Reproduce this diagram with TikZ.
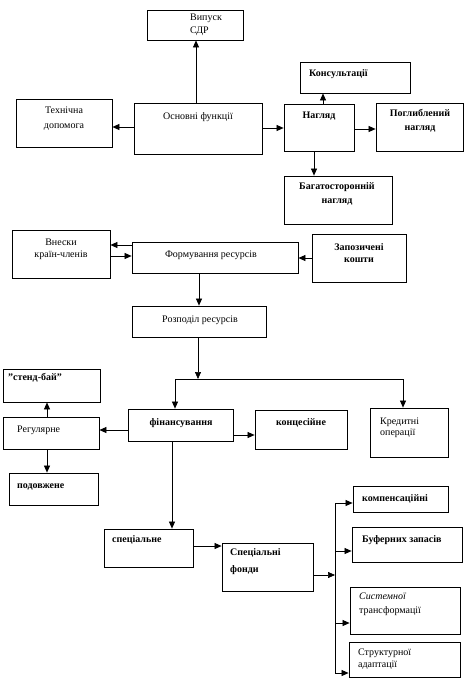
\documentclass[tikz,border=0pt]{standalone}
\usepackage{fontspec}
\setmainfont{Liberation Serif}
\usetikzlibrary{fit,arrows.meta}
\begin{document}
\begin{tikzpicture}[x=1pt,y=-1pt,
  bx/.style={draw, line width=0.8pt, inner sep=0pt},
  txt/.style={font=\fontsize{10}{14}\selectfont, inner sep=0pt, align=left},
  txtc/.style={txt, align=center},
  btxt/.style={txt, font=\fontsize{10}{14}\selectfont\bfseries},
  btxtc/.style={txtc, font=\fontsize{10}{14}\selectfont\bfseries},
  arr/.style={-{Triangle[length=7pt,width=6pt]}, line width=0.7pt},
  ln/.style={line width=0.7pt}]
\useasboundingbox[fill=white] (0,0) rectangle (473,682);

% boxes
\node[bx, fit={(147,10)(243,40)}] (vyp) {};
\node[bx, fit={(16,99)(112,147)}] (tech) {};
\node[bx, fit={(134,103)(262,154)}] (osn) {};
\node[bx, fit={(300,62)(410,93)}] (kons) {};
\node[bx, fit={(284,104)(354,151)}] (nahl) {};
\node[bx, fit={(376,103)(463,151)}] (pohl) {};
\node[bx, fit={(284,176)(392,224)}] (bahat) {};
\node[bx, fit={(12,230)(110,278)}] (vnes) {};
\node[bx, fit={(132,242)(298,273)}] (form) {};
\node[bx, fit={(312,234)(406,282)}] (zapoz) {};
\node[bx, fit={(132,306)(266,337)}] (rozp) {};
\node[bx, fit={(3,369)(100,402)}] (stend) {};
\node[bx, fit={(3,417)(99,449)}] (rehul) {};
\node[bx, fit={(9,473)(98,505)}] (podov) {};
\node[bx, fit={(128,409)(233,441)}] (fin) {};
\node[bx, fit={(255,410)(347,449)}] (konts) {};
\node[bx, fit={(370,408)(448,457)}] (kred) {};
\node[bx, fit={(104,529)(193,567)}] (spets) {};
\node[bx, fit={(222,543)(313,591)}] (fondy) {};
\node[bx, fit={(353,486)(448,512)}] (komp) {};
\node[bx, fit={(352,527)(462,562)}] (buf) {};
\node[bx, fit={(350,587)(460,634)}] (syst) {};
\node[bx, fit={(349,642)(460,677)}] (strukt) {};

% texts
\node[txt, anchor=west] (t-vyp) at (190,25) {Випуск\\[-1pt]СДР};
\node[txtc] (t-tech) at (64,118.5) {Технічна\\[1pt]допомога};
\node[txtc] (t-osn) at (198,117) {Основні функції};
\node[btxt, anchor=west] (t-kons) at (309,74) {Консультації};
\node[btxtc] (t-nahl) at (319,116) {Нагляд};
\node[btxtc] (t-pohl) at (420,121) {Поглиблений\\нагляд};
\node[btxtc] (t-bahat) at (337,194) {Багатосторонній\\нагляд};
\node[txtc] (t-vnes) at (61,249) {Внески\\[-2pt]країн-членів};
\node[txtc] (t-form) at (211,255) {Формування ресурсів};
\node[btxtc] (t-zapoz) at (359,253) {Запозичені\\[-2pt]кошти};
\node[txtc] (t-rozp) at (200,320) {Розподіл ресурсів};
\node[btxt, anchor=west] (t-stend) at (8,378) {"стенд-бай"};
\node[txt, anchor=west] (t-rehul) at (17,430) {Регулярне};
\node[btxt, anchor=west] (t-podov) at (17,487) {подовжене};
\node[btxtc] (t-fin) at (181,423) {фінансування};
\node[btxtc] (t-konts) at (301,423) {концесійне};
\node[txt, anchor=west] (t-kred) at (380,427.5) {Кредитні\\[-3pt]операції};
\node[btxt, anchor=west] (t-spets) at (112,540) {спеціальне};
\node[btxt, anchor=west] (t-fondy) at (230,561.5) {Спеціальні\\[3pt]фонди};
\node[btxt, anchor=west] (t-komp) at (362,499) {компенсаційні};
\node[btxt, anchor=west] (t-buf) at (362,540) {Буферних запасів};
\node[txt, anchor=west] (t-syst) at (359,604) {\textit{Системної}\\трансформації};
\node[txt, anchor=west] (t-strukt) at (358,659) {Структурної\\[-2pt]адаптації};

% branch points
\coordinate (hbr) at (198,379);
\coordinate (hl) at (175,379);
\coordinate (hr) at (403,379);
\coordinate (vtop) at (335,503);
\coordinate (vbot) at (335,673);
\coordinate (vmid) at (335,575);

% connectors
\draw[arr] (196,0 |- osn.north) -- (196,0 |- vyp.south);
\draw[arr] (0,127 -| osn.west) -- (0,127 -| tech.east);
\draw[arr] (0,128 -| osn.east) -- (0,128 -| nahl.west);
\draw[arr] (323,0 |- nahl.north) -- (323,0 |- kons.south);
\draw[arr] (0,129 -| nahl.east) -- (0,129 -| pohl.west);
\draw[arr] (314,0 |- nahl.south) -- (314,0 |- bahat.north);
\draw[arr] (0,245 -| form.west) -- (0,245 -| vnes.east);
\draw[arr] (0,256 -| vnes.east) -- (0,256 -| form.west);
\draw[arr] (0,258 -| zapoz.west) -- (0,258 -| form.east);
\draw[arr] (199,0 |- form.south) -- (199,0 |- rozp.north);
\draw[arr] (198,0 |- rozp.south) -- (hbr);
\draw[ln] (hl) -- (hr);
\draw[arr] (hl) -- (hl |- fin.north);
\draw[arr] (hr) -- (hr |- kred.north);
\draw[arr] (0,430 -| fin.west) -- (0,430 -| rehul.east);
\draw[arr] (47,0 |- rehul.north) -- (47,0 |- stend.south);
\draw[arr] (47,0 |- rehul.south) -- (47,0 |- podov.north);
\draw[arr] (0,435 -| fin.east) -- (0,435 -| konts.west);
\draw[arr] (172,0 |- fin.south) -- (172,0 |- spets.north);
\draw[arr] (0,546 -| spets.east) -- (0,546 -| fondy.west);
\draw[arr] (vmid -| fondy.east) -- (vmid);
\draw[ln] (vtop) -- (vbot);
\draw[arr] (vtop) -- (vtop -| komp.west);
\draw[arr] (335,551) -- (0,551 -| buf.west);
\draw[arr] (335,623) -- (0,623 -| syst.west);
\draw[arr] (vbot) -- (vbot -| strukt.west);
\end{tikzpicture}
\end{document}
